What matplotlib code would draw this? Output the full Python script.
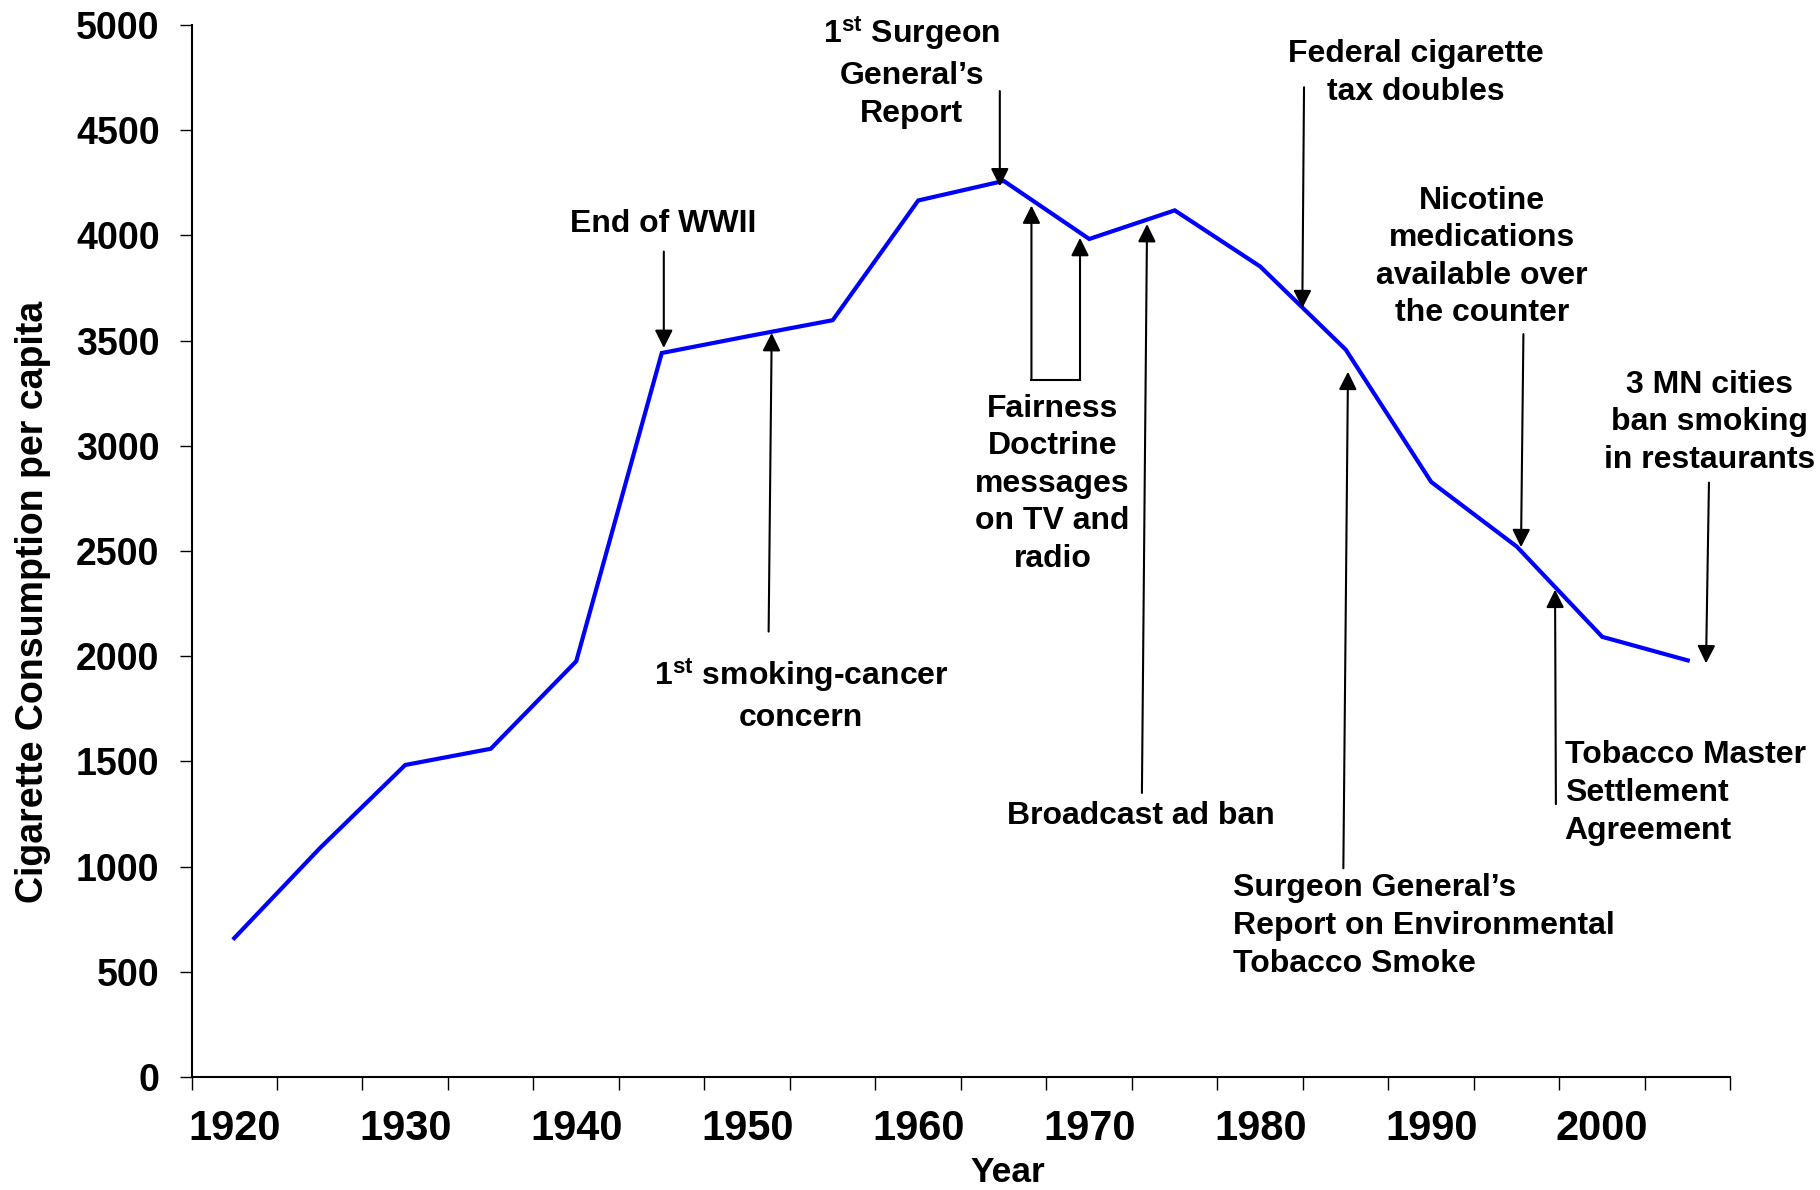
import matplotlib
matplotlib.use("Agg")
import matplotlib.pyplot as plt

plt.rcParams['font.family'] = ['Liberation Sans', 'DejaVu Sans']
plt.rcParams['font.weight'] = 'bold'
plt.rcParams['mathtext.fontset'] = 'custom'
plt.rcParams['mathtext.rm'] = 'Liberation Sans:bold'
plt.rcParams['mathtext.bf'] = 'Liberation Sans:bold'
plt.rcParams['mathtext.it'] = 'Liberation Sans:bold'

# ---- data ----
years = [1920, 1925, 1930, 1935, 1940, 1945, 1950, 1955, 1960, 1965,
         1970, 1975, 1980, 1985, 1990, 1995, 2000, 2005]
consumption = [660, 1087, 1483, 1560, 1976, 3441, 3520, 3597, 4166, 4259,
               3983, 4119, 3852, 3457, 2828, 2521, 2092, 1980]
label_years = [1920, 1930, 1940, 1950, 1960, 1970, 1980, 1990, 2000]
y_ticks = [0, 500, 1000, 1500, 2000, 2500, 3000, 3500, 4000, 4500, 5000]

ev_wwii = "End of WWII"
ev_cancer = "1$^{\\mathrm{st}}$ smoking-cancer\nconcern"
ev_sg1 = "1$^{\\mathrm{st}}$ Surgeon\nGeneral\u2019s\nReport"
ev_fair = "Fairness\nDoctrine\nmessages\non TV and\nradio"
ev_broad = "Broadcast ad ban"
ev_tax = "Federal cigarette\ntax doubles"
ev_nic = "Nicotine\nmedications\navailable over\nthe counter"
ev_msa = "Tobacco Master\nSettlement\nAgreement"
ev_mn = "3 MN cities\nban smoking\nin restaurants"
ev_ets = "Surgeon General\u2019s\nReport on Environmental\nTobacco Smoke"

fig = plt.figure(figsize=(18.2, 11.9), dpi=100)
ax = fig.add_axes([0.10522, 0.09496, 0.84560, 0.88403])

ax.plot(years, consumption, color='#0000FF', lw=3, solid_joinstyle='miter', zorder=3)

ax.set_xlim(1917.5, 2007.5)
ax.set_ylim(0, 5000)

# category-style ticks: marks at boundaries, labels at centers
ax.set_xticks([1917.5 + 5 * k for k in range(19)])
ax.set_xticklabels([])
ax.set_xticks(label_years, minor=True)
ax.set_xticklabels([str(y) for y in label_years], minor=True)
ax.tick_params(axis='x', which='major', direction='out', length=9, width=1)
ax.tick_params(axis='x', which='minor', length=0, pad=23, labelsize=30)
ax.set_yticks(y_ticks)
ax.set_yticklabels([str(v) for v in y_ticks])
ax.tick_params(axis='y', direction='out', length=9, width=1, pad=14, labelsize=27)
for lab in ax.get_xticklabels(minor=True) + ax.get_yticklabels():
    lab.set_fontweight('bold')

for s in ['top', 'right']:
    ax.spines[s].set_visible(False)
for s in ['left', 'bottom']:
    ax.spines[s].set_linewidth(1.5)

ax.set_xlabel("Year", fontsize=25.5, fontweight='bold')
ax.xaxis.label.set_va('baseline')
ax.xaxis.set_label_coords(0.5305, -0.0995)
ax.set_ylabel("Cigarette Consumption per capita", fontsize=27, fontweight='bold')
ax.yaxis.label.set_va('center')
ax.yaxis.set_label_coords(-0.1033, 0.4515)

FS = 23
LS = 1.33
aprops = dict(arrowstyle='-|>,head_length=0.4,head_width=0.2', color='black',
              lw=1.5, mutation_scale=27, shrinkA=0, shrinkB=0)


def arrow(tail, tip):
    ax.annotate("", xy=tip, xytext=tail, xycoords='data', textcoords='data',
                arrowprops=aprops, annotation_clip=False, zorder=4)


def label(x, y, s, ha='center'):
    ax.text(x, y, s, ha=ha, va='center', multialignment=ha, fontsize=FS,
            fontweight='bold', linespacing=LS, clip_on=False, zorder=5)


# End of WWII
label(1945.11, 4054, ev_wwii)
arrow((1945.12, 3923), (1945.12, 3465))
# 1st smoking-cancer concern
label(1953.14, 1816, ev_cancer)
arrow((1951.25, 2117), (1951.43, 3536))
# 1st Surgeon General's report
label(1959.63, 4777, ev_sg1)
arrow((1964.77, 4686), (1964.77, 4233))
# Fairness doctrine (bracket with two arrows)
label(1967.86, 2819, ev_fair)
arrow((1966.62, 3313), (1966.62, 4142))
arrow((1969.46, 3313), (1969.46, 3988))
ax.plot([1966.62, 1969.46], [3313, 3313], color='black', lw=1.5, zorder=4)
# Broadcast ad ban
label(1973.03, 1240, ev_broad)
arrow((1973.08, 1350), (1973.38, 4054))
# Federal tax doubles
label(1989.08, 4772, ev_tax)
arrow((1982.56, 4704), (1982.46, 3654))
# Nicotine medications
label(1992.97, 3897, ev_nic)
arrow((1995.39, 3531), (1995.25, 2518))
# Tobacco MSA
label(1997.80, 1350, ev_msa, ha='left')
arrow((1997.29, 1297), (1997.24, 2316))
# 3 MN cities
label(2006.3, 3111, ev_mn)
arrow((2006.24, 2825), (2006.07, 1966))
# SG report on ETS
label(1978.41, 718, ev_ets, ha='left')
arrow((1984.86, 992), (1985.13, 3352))

fig.savefig("out.png", dpi=100, facecolor='white')
